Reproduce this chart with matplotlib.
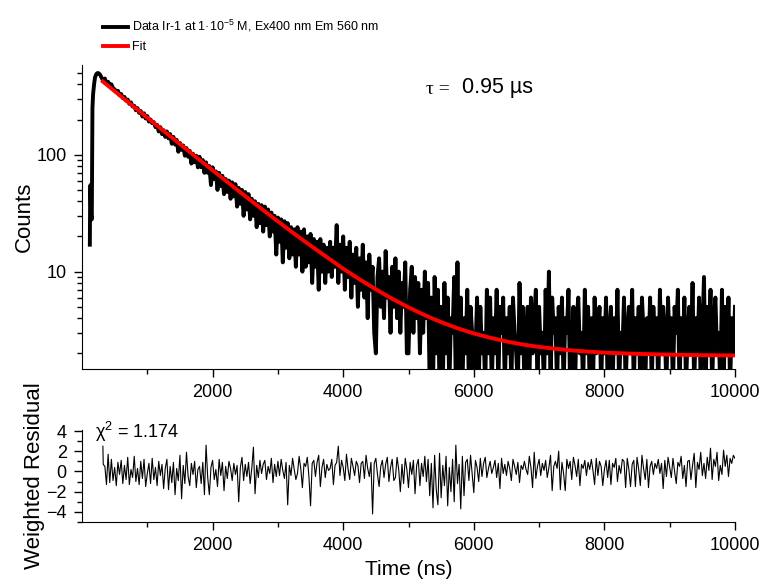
import numpy as np
import matplotlib
matplotlib.use('Agg')
import matplotlib.pyplot as plt
from matplotlib.ticker import FuncFormatter, NullFormatter

plt.rcParams['font.family'] = ['Liberation Sans', 'DejaVu Sans']
plt.rcParams['mathtext.fontset'] = 'custom'
plt.rcParams['mathtext.rm'] = 'Liberation Sans'
plt.rcParams['mathtext.it'] = 'Liberation Sans:italic'
plt.rcParams['mathtext.default'] = 'regular'

# rising edge of the decay (ns, counts)
rise_t = [120, 125, 130, 140, 150, 160, 170, 185, 200, 220, 240, 260, 280]
rise_counts = [17, 45, 55, 30, 28, 250, 330, 400, 460, 490, 500, 495, 480]

# decay channels, 25 ns steps from 300 to 10000 ns
decay_t = np.arange(300, 10001, 25)
decay_counts = [
    455, 430, 448, 410, 420, 392, 400, 370, 362, 345, 352, 322, 330, 305, 312, 290, 296, 272, 280, 258,
    262, 240, 250, 228, 236, 212, 226, 204, 214, 192, 200, 186, 190, 172, 180, 158, 172, 150, 162, 142,
    158, 138, 150, 124, 142, 122, 134, 106, 126, 110, 120, 98, 114, 96, 108, 84, 102, 86, 98, 78,
    96, 78, 90, 70, 86, 70, 80, 55, 78, 62, 72, 50, 70, 54, 66, 46, 62, 48, 60, 42,
    58, 44, 56, 36, 52, 38, 50, 30, 48, 34, 46, 28, 42, 30, 40, 24, 38, 26, 37, 22,
    36, 25, 34, 20, 32, 22, 30, 14, 29, 18, 28, 12, 27, 16, 26, 13, 24, 14, 23, 11,
    24, 14, 22, 10, 23, 11, 20, 12, 21, 8, 19, 11, 18, 7, 19, 10, 17, 8, 16, 10,
    18, 9, 16, 11, 25, 8, 17, 10, 20, 7, 16, 9, 18, 6, 14, 8, 16, 5, 13, 7,
    17, 6, 12, 4, 14, 7, 11, 3, 2, 9, 13, 5, 10, 4, 15, 6, 9, 3, 11, 5,
    13, 4, 10, 3, 8, 5, 12, 2, 2, 7, 11, 3, 9, 4, 8, 2, 7, 3, 10, 4,
    8, 1, 6, 1, 9, 2, 7, 1, 5, 1, 8, 2, 6, 1, 4, 3, 9, 1, 12, 1,
    6, 1, 4, 2, 7, 1, 5, 3, 1, 2, 6, 1, 5, 2, 3, 1, 7, 2, 6, 1,
    4, 2, 7, 1, 5, 3, 6, 1, 4, 2, 5, 1, 6, 3, 2, 1, 8, 2, 5, 1,
    3, 5, 1, 6, 2, 4, 7, 1, 5, 2, 3, 1, 7, 2, 10, 1, 6, 3, 4, 1,
    5, 2, 6, 1, 4, 3, 7, 1, 2, 5, 1, 4, 6, 2, 3, 1, 7, 2, 5, 1,
    4, 1, 6, 2, 3, 5, 1, 4, 2, 6, 1, 3, 5, 1, 4, 2, 7, 1, 3, 2,
    6, 1, 3, 5, 2, 7, 1, 4, 2, 5, 1, 6, 3, 1, 4, 2, 6, 1, 5, 2,
    4, 1, 7, 2, 5, 3, 1, 6, 2, 4, 1, 5, 3, 7, 1, 4, 2, 6, 1, 3,
    5, 2, 8, 1, 4, 2, 6, 1, 3, 9, 1, 5, 2, 7, 1, 4, 6, 2, 3, 1,
    7, 1, 5, 2, 6, 1, 4, 2, 5,
]

# fitted curve (ns, counts)
fit_t = [320, 500, 750, 1000, 1250, 1500, 1750, 2000, 2250, 2500, 2750,
         3000, 3250, 3500, 3750, 4000, 4250, 4500, 4750, 5000, 5250,
         5500, 5750, 6000, 6250, 6500, 6750, 7000, 7250, 7500, 7750,
         8000, 8500, 9000, 9500, 10000]
fit_counts = [421.9, 349.4, 269.0, 207.2, 159.7, 123.2, 95.1, 73.6, 57.0,
              44.2, 34.4, 26.9, 21.1, 16.7, 13.3, 10.6, 8.6, 7.06, 5.86,
              4.95, 4.24, 3.70, 3.28, 2.96, 2.72, 2.53, 2.38, 2.27, 2.19,
              2.12, 2.07, 2.03, 1.98, 1.95, 1.93, 1.92]

# weighted residuals on the decay channels
residual = [
    2.5, 0.7, 0.5, -1.3, 1.7, -1.1, 1.2, -0.9, 0.4, -1.4, 0.9, -0.3, 1.1, -1.2, 0.6, -0.8, 1.4, -1.3, 0.2, -0.6,
    1.5, -1.0, 0.3, -1.3, 1.0, -0.7, 1.2, -1.5, -0.2, 0.8, -1.2, 1.3, -0.8, 0.4, -1.4, 1.0, -0.4, 0.7, -1.7, 0.3,
    1.2, -1.8, 0.5, -1.1, 0.9, -2.3, 0.3, -0.9, 1.6, -2.7, 0.6, -1.2, 1.9, -0.5, -1.4, 0.8, -0.3, 1.0, -1.6, 0.2,
    0.5, -1.2, 0.9, -2.3, 2.6, -0.6, -2.3, 0.4, 1.1, -0.8, 0.2, -1.5, 1.2, -0.4, 0.9, -1.9, 0.5, -0.7, 1.0, 0.3,
    -0.9, 0.8, -0.3, 0.6, -3.0, 0.4, 1.4, -0.9, 0.7, -0.5, 0.9, -1.2, 0.3, 2.4, -2.2, 0.6, -0.6, 1.1, -0.2, 0.7,
    1.1, -0.8, 0.5, -0.2, 1.3, -1.1, 0.7, -0.5, 1.0, -0.4, 1.2, 0.1, -0.7, 0.9, -3.3, 0.6, -0.4, 1.3, 0.2, -0.8,
    -0.2, 1.5, 0.3, -1.6, 0.8, 0.5, 1.4, -0.5, -3.4, 0.8, 1.1, -0.5, 0.9, 1.6, -1.5, 0.4, 1.2, -0.6, 0.7, 0.1,
    0.3, 1.2, -1.3, 0.6, 0.9, 2.5, -0.4, 1.1, 0.4, -0.9, 1.7, 0.2, -0.8, 1.3, 0.5, -0.4, 1.0, 0.6, -1.1, 0.8,
    1.0, -0.7, 1.6, 0.3, -0.5, 0.9, -4.2, 0.8, 1.3, -0.3, -1.5, 0.5, 1.1, -0.6, 0.7, 1.4, -1.0, 0.4, 1.2, -0.9,
    -0.6, 1.4, 0.2, -2.0, 0.7, -1.2, 1.3, 0.2, -1.6, 0.9, -0.3, 1.1, -2.2, 0.6, 1.2, -1.4, 0.8, -0.5, 1.5, -1.0,
    1.2, -2.4, 0.8, -3.6, 1.6, -1.8, -3.3, 1.8, -2.6, 0.6, -1.4, 1.5, -3.4, 0.4, -2.0, 1.2, -3.0, 2.6, -1.2, 0.7,
    -3.7, 1.5, -2.4, 0.9, 1.2, -0.9, 1.6, -0.3, -2.1, 1.1, 0.4, -1.0, 1.3, -0.5, 0.8, 1.4, -0.6, 0.3, 1.0, -0.2,
    0.4, 1.1, -0.6, 0.8, -1.7, 1.3, -0.2, 0.7, -0.4, 1.0, 0.3, -0.9, 1.2, 0.5, -0.3, 0.9, -1.1, 0.6, 0.2, 1.0,
    0.2, -0.3, 1.5, 0.4, -1.6, 1.9, -0.7, 0.5, 1.2, -0.4, 0.8, 0.1, 1.1, -0.6, 0.4, 1.6, -1.9, 0.5, 1.0, 0.3,
    2.0, -1.8, 0.9, -0.2, -1.9, 1.2, 0.3, 1.0, -0.8, 1.4, 0.6, -0.5, 1.2, -1.4, 0.7, 0.3, 1.1, -0.4, 0.9, 0.2,
    1.2, 0.1, -1.3, 1.3, -0.4, 1.0, 0.5, -1.4, 0.2, 1.1, -0.6, 1.1, -1.3, 0.8, 0.4, 1.3, -1.0, 0.6, -0.2, 1.2,
    1.0, -1.6, 1.3, 0.2, -1.5, 0.7, 1.1, -1.5, 1.4, 0.2, -1.4, 1.6, 0.3, -0.8, 1.2, -1.6, 0.5, 1.0, -0.3, 0.8,
    0.3, 1.2, -0.2, 0.8, -1.7, 1.1, -0.5, 1.4, 0.4, -0.6, 1.3, 0.0, -1.2, 0.9, 0.5, 1.5, -0.7, 0.6, -1.5, 1.0,
    1.1, -0.8, 0.6, 1.8, -1.6, 0.9, 0.2, 1.9, -0.4, 0.8, -0.7, 1.4, 0.1, 2.3, -0.8, 1.2, 0.5, 1.9, -0.9, 0.6,
    -0.3, 2.1, 0.5, 1.6, -0.5, 1.3, 0.8, 1.6, 1.3,
]

data_t = np.concatenate([rise_t, decay_t])
data_counts = np.concatenate([rise_counts, decay_counts])
res_t = decay_t.copy()
res_t[0] = 320

W, H = 760, 588
fig = plt.figure(figsize=(7.6, 5.88), dpi=100)
ax = fig.add_axes([82/W, 1-369/H, 653/W, 304/H])
ax2 = fig.add_axes([82/W, 1-522/H, 653/W, 92/H])

ax.plot(data_t, data_counts, color='black', lw=2.8,
        label='Data Ir-1 at 1·10$^{-5}$ M, Ex400 nm Em 560 nm')
ax.plot(fit_t, fit_counts, color='red', lw=2.8, label='Fit')
ax.set_yscale('log')
ax.set_xlim(0, 10000)
ax.set_ylim(1.47, 585)
ax.yaxis.set_major_formatter(FuncFormatter(lambda v, p: '%g' % v))
ax.yaxis.set_minor_formatter(NullFormatter())
ax.set_ylabel('Counts', fontsize=16, labelpad=1)

ax2.plot(res_t, residual, color='black', lw=0.8)
ax2.set_xlim(0, 10000)
ax2.set_ylim(-5, 4.1)
ax2.set_yticks([-4, -2, 0, 2, 4])
ax2.set_yticks([-5, -3, -1, 1, 3], minor=True)
ax2.set_xlabel('Time (ns)', fontsize=15, labelpad=4)
ax2.set_ylabel('Weighted Residual', fontsize=16, labelpad=1)

for a in (ax, ax2):
    a.spines['top'].set_visible(False)
    a.spines['right'].set_visible(False)
    a.set_xticks([2000, 4000, 6000, 8000, 10000])
    a.set_xticks([1000, 3000, 5000, 7000, 9000], minor=True)
    a.tick_params(which='major', length=6, width=1, labelsize=13, pad=5)
    a.tick_params(which='minor', length=3.5, width=1)

ax.legend(loc='upper left', bbox_to_anchor=(97/W, 1-12/H),
          bbox_transform=fig.transFigure, frameon=False, fontsize=9,
          handlelength=2.0, handletextpad=0.3, labelspacing=0.55,
          borderpad=0)

fig.text(426/W, 1-89/H, 'τ =', fontsize=14, family='Liberation Serif',
         va='center')
fig.text(462/W, 1-88/H, '0.95 µs', fontsize=15.5, va='center')
fig.text(95/W, 1-432/H, 'χ$^{2}$ = 1.174', fontsize=13, va='center')

fig.savefig('out.png', dpi=100)
